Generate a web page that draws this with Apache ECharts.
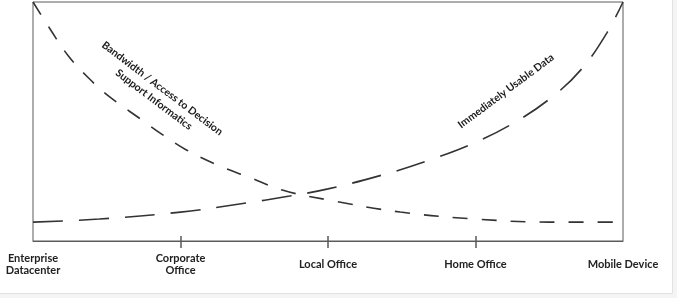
<!DOCTYPE html>
<html>
<head>
<meta charset="utf-8">
<script src="https://cdn.jsdelivr.net/npm/echarts@6/dist/echarts.min.js"></script>
<style>
html, body { margin: 0; padding: 0; background: #f4f4f4; }
#chart { width: 677px; height: 298px; }
</style>
</head>
<body>
<div id="chart"></div>
<script>
// 横轴类别
var categories = ['Enterprise\nDatacenter', 'Corporate\nOffice', 'Local Office', 'Home Office', 'Mobile Device'];

// Bandwidth / Access to Decision Support Informatics (下降曲线)
var bandwidthX = [0, 0.12, 0.24, 0.37, 0.52, 0.73, 0.88, 1.04, 1.25, 1.46, 1.69, 2.0, 2.49, 3.0, 3.5, 4.0];
var bandwidthY = [100, 88.3, 77.4, 68.6, 60.3, 51.0, 44.4, 38.1, 31.8, 26.8, 21.3, 17.2, 12.1, 9.2, 7.9, 7.9];

// Immediately Usable Data (上升曲线)
var usableX = [0, 0.45, 1.0, 1.4, 1.74, 2.0, 2.39, 2.69, 2.99, 3.27, 3.52, 3.72, 3.89, 4.0];
var usableY = [7.9, 9.2, 12.1, 15.5, 18.8, 21.8, 28.0, 33.9, 41.0, 49.8, 60.3, 72.0, 87.0, 100];

function pairs(xs, ys) {
    var out = [];
    for (var i = 0; i < xs.length; i++) {
        out.push([xs[i], ys[i]]);
    }
    return out;
}

var myChart = echarts.init(document.getElementById('chart'));
var lineColor = '#333';
var option = {
    animation: false,
    backgroundColor: 'transparent',
    grid: {
        left: 33, right: 54, top: 2, bottom: 57,
        show: true, borderColor: '#5a5a5a', borderWidth: 1, backgroundColor: '#fff'
    },
    graphic: [
        {
            type: 'rect', z: -10, silent: true,
            shape: { x: -1, y: -1, width: 673.5, height: 294.5 },
            style: { fill: '#fff', stroke: '#e2e2e2', lineWidth: 1 }
        },
        {
            type: 'text', x: 158, y: 94, rotation: -37 * Math.PI / 180,
            style: {
                text: 'Bandwidth / Access to Decision\nSupport Informatics',
                fill: '#1a1a1a', font: 'bold 10.5px Lato', lineHeight: 14,
                textAlign: 'center', textVerticalAlign: 'middle'
            }
        },
        {
            type: 'text', x: 506, y: 91, rotation: 36.7 * Math.PI / 180,
            style: {
                text: 'Immediately Usable Data',
                fill: '#1a1a1a', font: 'bold 10.5px Lato',
                textAlign: 'center', textVerticalAlign: 'middle'
            }
        }
    ],
    xAxis: [
        {
            type: 'value', min: 0, max: 4, interval: 1,
            splitLine: { show: false },
            axisLine: { show: true, lineStyle: { color: '#5a5a5a', width: 1 } },
            axisTick: { show: true, customValues: [1, 2, 3], length: 7, lineStyle: { color: '#5a5a5a', width: 1.5 } },
            axisLabel: {
                margin: 23, verticalAlign: 'middle', lineHeight: 12,
                color: '#222', fontFamily: 'Lato', fontWeight: 'bold', fontSize: 11,
                formatter: function (v) { return categories[Math.round(v)]; }
            }
        },
        {
            type: 'value', min: 0, max: 4, position: 'bottom',
            splitLine: { show: false },
            axisLine: { show: false },
            axisTick: { show: true, inside: true, customValues: [1, 2, 3], length: 5, lineStyle: { color: '#5a5a5a', width: 1.5 } },
            axisLabel: { show: false }
        }
    ],
    yAxis: {
        type: 'value', min: 0, max: 100,
        show: false
    },
    series: [
        {
            name: 'Bandwidth / Access to Decision Support Informatics',
            type: 'line', smooth: 0.4, symbol: 'none',
            data: pairs(bandwidthX, bandwidthY),
            lineStyle: { color: lineColor, width: 1.6, type: [15, 14] }
        },
        {
            name: 'Immediately Usable Data',
            type: 'line', smooth: 0.4, symbol: 'none',
            data: pairs(usableX, usableY),
            lineStyle: { color: lineColor, width: 1.6, type: [30, 16] }
        }
    ]
};
myChart.setOption(option);
</script>
</body>
</html>
